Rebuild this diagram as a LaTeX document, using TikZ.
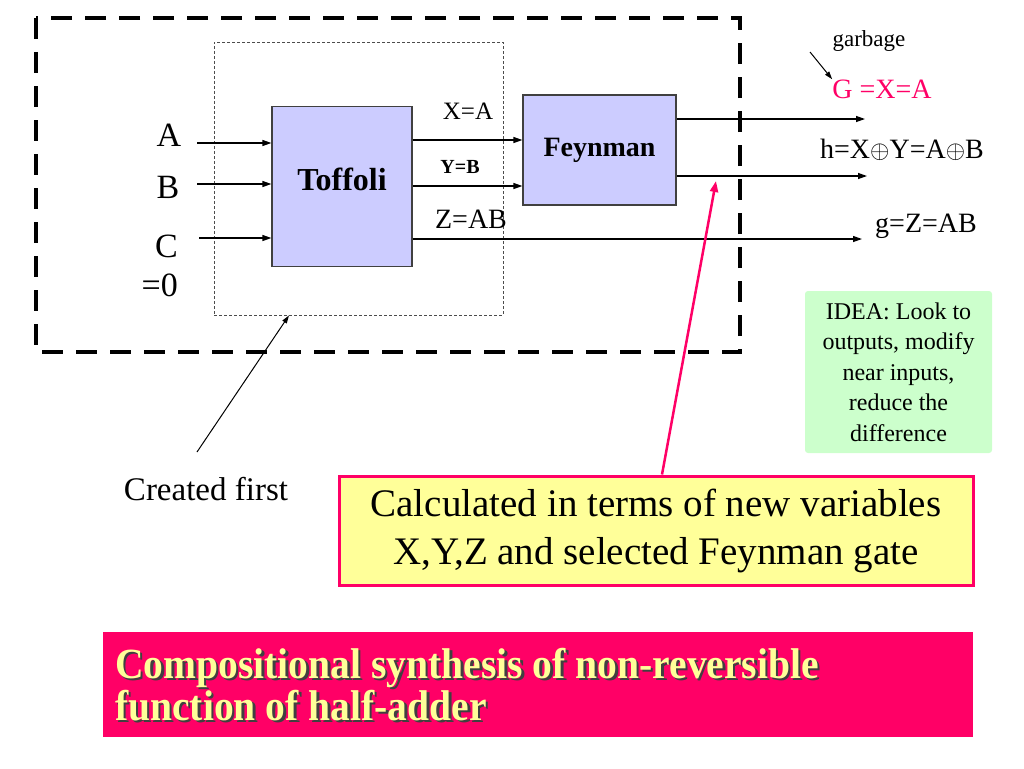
\documentclass[tikz,border=0pt]{standalone}
\usepackage{fontspec}
\setmainfont{Liberation Serif}
\newfontfamily\bannerfont{Liberation Serif}[FakeStretch=0.92]
\usetikzlibrary{arrows.meta}
\definecolor{gatefill}{RGB}{204,204,255}
\definecolor{hotpink}{RGB}{255,0,102}
\definecolor{notefill}{RGB}{255,255,153}
\definecolor{ideafill}{RGB}{204,255,204}
\begin{document}
\begin{tikzpicture} [x=1pt, y=-1pt,
    gate/.style={draw=black!75, line width=1.2pt, fill=gatefill, inner sep=0pt, font=\bfseries\fontsize{28}{34}\selectfont},
    wire/.style={line width=1.2pt, -{Triangle[length=9pt,width=6pt]}},
    ptr/.style={line width=1pt, -{Triangle[length=8pt,width=5pt]}},
    lbl/.style={inner sep=0pt, anchor=base},
    outlbl/.style={lbl, font=\fontsize{28}{34}\selectfont},
    bannerlbl/.style={inner sep=0pt, anchor=north west, align=left, font=\bannerfont\bfseries\fontsize{43}{42}\selectfont}]
    \useasboundingbox (0,0) rectangle (1024,768);
    \draw[line width=4.5pt, dash pattern=on 21pt off 13pt] (36,18) rectangle (740,352);
    \node[draw=black!70, line width=0.8pt, dash pattern=on 3pt off 2pt, minimum width=289pt, minimum height=273pt] (stage) at (358.5,178.5) {};
    \node[gate, minimum width=140pt, minimum height=160pt, text depth=14pt, font=\bfseries\fontsize{32}{38}\selectfont] (toffoli) at (342,186.5) {Toffoli};
    \node[gate, minimum width=153pt, minimum height=110pt] (feynman) at (599.5,150) {Feynman};
    \node[lbl, font=\fontsize{34}{39}\selectfont] (labA) at (169,146) {A};
    \node[lbl, font=\fontsize{34}{39}\selectfont] (labB) at (168,198) {B};
    \node[inner sep=0pt, anchor=north east, align=right, font=\fontsize{34}{39}\selectfont] (labC) at (178,235) {C\\=0};
    \coordinate (inA) at (197,143);
    \coordinate (inB) at (197,184);
    \coordinate (inC) at (199,238);
    \draw[wire] (inA) -- (inA -| toffoli.west);
    \draw[wire] (inB) -- (inB -| toffoli.west);
    \draw[wire] (inC) -- (inC -| toffoli.west);
    \node[lbl, font=\fontsize{25}{30}\selectfont] (sigX) at (468,119) {X=A};
    \node[lbl, font=\bfseries\fontsize{20}{24}\selectfont] (sigY) at (460,173) {Y=B};
    \node[lbl, font=\fontsize{28}{34}\selectfont] (sigZ) at (471,228) {Z=AB};
    \draw[wire] (toffoli.east |- 0,140) -- (feynman.west |- 0,140);
    \draw[wire] (toffoli.east |- 0,186) -- (feynman.west |- 0,186);
    \coordinate (outG) at (865,119);
    \coordinate (outH) at (867,176);
    \coordinate (outZ) at (862,239);
    \draw[wire] (feynman.east |- outG) -- (outG);
    \draw[wire] (feynman.east |- outH) -- (outH);
    \draw[wire] (toffoli.east |- outZ) -- (outZ);
    \node[lbl, font=\fontsize{23}{28}\selectfont] (garbage) at (869,47) {garbage};
    \node[outlbl, text=hotpink] (labG) at (882,98) {G =X=A};
    \node[outlbl] (labH) at (902,158) {h=X$\oplus$Y=A$\oplus$B};
    \node[outlbl] (labZ) at (926,232) {g=Z=AB};
    \coordinate (gtail) at (810,52);
    \draw[ptr] (gtail) -- (labG.north west);
    \node[fill=ideafill, rounded corners=3pt, minimum width=187pt, minimum height=162pt, inner sep=0pt, align=center, font=\fontsize{24}{30.5}\selectfont] (idea) at (898.5,372) {IDEA: Look to\\outputs, modify\\near inputs,\\reduce the\\difference};
    \node[lbl, font=\fontsize{33}{40}\selectfont] (created) at (206,500) {Created first};
    \coordinate (ctail) at (197,452);
    \draw[ptr] (ctail) -- (stage.south -| 289,0);
    \node[draw=hotpink, line width=3pt, fill=notefill, minimum width=634pt, minimum height=109pt, inner sep=0pt, align=center, font=\fontsize{39}{48}\selectfont] (calc) at (656,530.5) {Calculated in terms of new variables\\X,Y,Z and selected Feynman gate};
    \coordinate (hnote) at (716,181);
    \draw[hotpink, line width=2.5pt, -{Triangle[length=11pt,width=8pt]}] (calc.north -| 662,0) -- (hnote);
    \node[fill=hotpink, minimum width=870pt, minimum height=105pt, inner sep=0pt] (banner) at (538,684.5) {};
    \node[bannerlbl, text=black!75] (bannershadow) at (117.5,650.5) {Compositional synthesis of non-reversible\\function of half-adder};
    \node[bannerlbl, text=notefill] (bannertext) at (115,648) {Compositional synthesis of non-reversible\\function of half-adder};
  \end{tikzpicture}
\end{document}
